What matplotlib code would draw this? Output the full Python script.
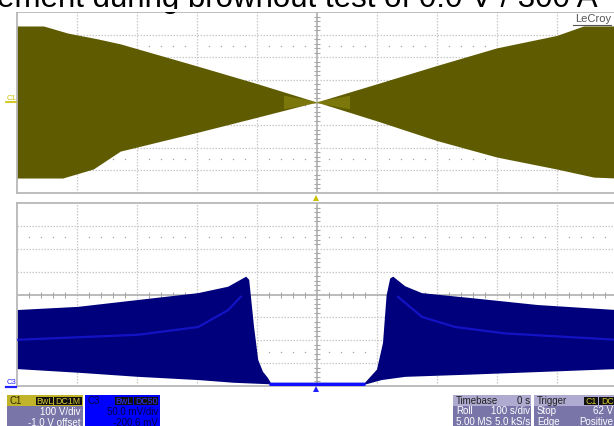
import numpy as np
import matplotlib
matplotlib.use('Agg')
import matplotlib.pyplot as plt
from matplotlib.patches import Rectangle
from matplotlib.lines import Line2D

plt.rcParams['font.family'] = ['Liberation Sans', 'DejaVu Sans']

W, H = 614, 426

# ---------------- data (time in s, C1 in V, C3 in mV on screen) ----------------
c1_upper_t = [-500, -455, -415, -365, -327, -200, -100, 0, 100, 200, 300, 400, 445, 500]
c1_upper_v = [336, 336, 305, 279, 257, 160, 82, 0, 80, 161, 239, 294, 336, 336]
c1_lower_t = [-500, -423, -372, -327, -200, -100, 0, 100, 200, 300, 400, 462, 500]
c1_lower_v = [-336, -336, -296, -217, -135, -68, 0, -83, -170, -243, -296, -332, -336]
c1_glow_t = [-55, 0, 55]
c1_glow_v = [30, 3, 30]

c3_upper_t = [-500, -398, -298, -198, -148, -118, -113, -105, -98, -90, -82, -77,
              80, 100, 110, 116, 122, 127, 147, 175, 258, 368, 500]
c3_upper_v = [-34, -27, -12, 3, 17, 39, 32, -70, -143, -169, -182, -193,
              -193, -164, -106, -2, 35, 39, 18, 3, -8, -23, -34]
c3_lower_t = [-500, -398, -298, -198, -138, -82, -77, 80, 108, 147, 258, 500]
c3_lower_v = [-163, -171, -180, -187, -193, -196, -197, -197, -187, -180, -175, -163]

c3_band_left_t = [-500, -298, -198, -148, -127]
c3_band_left_v = [-99, -88, -71, -34, -5]
c3_band_right_t = [135, 175, 230, 313, 500]
c3_band_right_v = [-5, -49, -71, -85, -99]
c3_base_t = [-80, 80]
c3_base_v = [-195, -195]

title_text = "ement during brownout test of 0.0 V / 300 A"
c1_info = ["100 V/div", "-1.0 V offset"]
c3_info = ["50.0 mV/div", "-200.6 mV"]
tb_info = [("Timebase", "0 s"), ("Roll", "100 s/div"), ("5.00 MS", "5.0 kS/s")]
trig_info = [("Trigger", ""), ("Stop", "62 V"), ("Edge", "Positive")]

OLIVE = '#5f5b00'
NAVY = '#00007c'
YEL = '#c8c000'
BLUE = '#2020ff'

fig = plt.figure(figsize=(W / 100, H / 100), dpi=100)


def fx(x):
    return x / W


def fy(y):
    return 1 - y / H


def scope_axes(top, bottom, ymax):
    ax = fig.add_axes([fx(17), fy(bottom), 600 / W, (bottom - top) / H])
    ax.set_xlim(-500, 500)
    ax.set_ylim(-ymax, ymax)
    ax.set_xticks([])
    ax.set_yticks([])
    for s in ax.spines.values():
        s.set_color('#b8b8b8')
        s.set_linewidth(1.3)
    div = ymax / 4
    for x in range(-400, 500, 100):
        if x != 0:
            ax.axvline(x, color='#c8c8c8', lw=0.9, ls=(0, (1.2, 1.2)), zorder=0)
    for k in (-3, -2, -1, 1, 2, 3):
        ax.axhline(k * div, color='#c8c8c8', lw=0.9, ls=(0, (1.2, 1.2)), zorder=0)
    ax.axvline(0, color='#a8a8a8', lw=1.1, zorder=0.5)
    ax.axhline(0, color='#a8a8a8', lw=1.1, zorder=0.5)
    xs = [x for x in range(-480, 500, 20) if x % 100 != 0]
    ax.plot(xs, [0] * len(xs), ls='none', marker='|', ms=4, mew=0.8,
            color='#a8a8a8', zorder=0.5)
    ys = [k * div / 5 for k in range(-19, 20) if k % 5 != 0]
    ax.plot([0] * len(ys), ys, ls='none', marker='_', ms=4, mew=0.8,
            color='#a8a8a8', zorder=0.5)
    for yy in (-2.5 * div, 2.5 * div):
        ax.plot(xs, [yy] * len(xs), ls='none', marker='s', ms=0.9, mew=0,
                color='#a0a0a0', zorder=0.5)
    return ax


# ---------------- top panel: C1 ----------------
ax1 = scope_axes(12, 193, 400)
ax1.fill(np.concatenate([c1_upper_t, c1_lower_t[::-1]]),
         np.concatenate([c1_upper_v, c1_lower_v[::-1]]),
         color=OLIVE, lw=0, zorder=2)
gv = np.array(c1_glow_v)
ax1.fill(np.concatenate([c1_glow_t, c1_glow_t[::-1]]),
         np.concatenate([gv, -gv[::-1]]),
         color='#aaa31a', alpha=0.4, lw=0, zorder=2.5)
ax1.text(490, 354, "LeCroy", ha='right', va='baseline', fontsize=8, color='#555555', zorder=3)
ax1.plot([427, 490], [344, 344], color='#555555', lw=0.8, zorder=3)

# ---------------- bottom panel: C3 ----------------
ax3 = scope_axes(203, 386, 200)
ax3.fill(np.concatenate([c3_upper_t, c3_lower_t[::-1]]),
         np.concatenate([c3_upper_v, c3_lower_v[::-1]]),
         color=NAVY, lw=0, zorder=2)
ax3.plot(c3_band_left_t, c3_band_left_v, color='#1818d8', lw=1.6, alpha=0.8, zorder=3)
ax3.plot(c3_band_right_t, c3_band_right_v, color='#1818d8', lw=1.6, alpha=0.8, zorder=3)
ax3.plot(c3_base_t, c3_base_v, color='#1010ff', lw=2.5, zorder=3,
         solid_capstyle='butt')

# ---------------- channel markers / trigger arrows ----------------
fig.text(fx(7), fy(100), "C1", fontsize=5.5, color=YEL, ha='left', va='baseline')
fig.add_artist(Line2D([fx(6), fx(16)], [fy(101.5), fy(101.5)], color=YEL, lw=1.2))
fig.text(fx(7), fy(384), "C3", fontsize=5.5, color=BLUE, ha='left', va='baseline')
fig.add_artist(Line2D([fx(6), fx(16)], [fy(386.5), fy(386.5)], color=BLUE, lw=1.6))
fig.add_artist(Line2D([fx(316)], [fy(198)], marker='^', ms=5, color=YEL, mew=0))
fig.add_artist(Line2D([fx(316)], [fy(389)], marker='^', ms=5, color=BLUE, mew=0))

# ---------------- title (cut off at top, partly hidden by the screenshot) ----------------
fig.text(fx(-3), fy(7.5), title_text, fontsize=22.5, color='black', ha='left',
         va='baseline', zorder=1)
fig.add_artist(Rectangle((0, fy(12)), 1, 2.6 / H, transform=fig.transFigure,
                         color='white', lw=0, zorder=1.5))


# ---------------- info boxes ----------------
def rect(x0, y0, x1, y1, color, z=5):
    fig.add_artist(Rectangle((fx(x0), fy(y1)), (x1 - x0) / W, (y1 - y0) / H,
                             transform=fig.transFigure, color=color, lw=0, zorder=z))


def tag(x0, x1, y0, y1, text, fg):
    rect(x0, y0, x1, y1, '#101010', z=6)
    fig.text(fx((x0 + x1) / 2), fy((y0 + y1) / 2 + 0.5), text, fontsize=6.3, color=fg,
             ha='center', va='center', zorder=7)


PURP = '#7a75a8'
LAV = '#aeaad0'
FS = 7

# C1 box
rect(7, 395, 83, 426, PURP)
rect(7, 395, 83, 405.5, '#c2b42a')
fig.text(fx(9), fy(404), "C1", fontsize=FS, color='#2a2a00', ha='left', va='baseline', zorder=7)
tag(36, 53, 396.5, 404.5, "BwL", '#d8c830')
tag(54, 82, 396.5, 404.5, "DC1M", '#d8c830')
fig.text(fx(80), fy(415), c1_info[0], fontsize=FS, color='white', ha='right', va='baseline', zorder=7)
fig.text(fx(80), fy(425.5), c1_info[1], fontsize=FS, color='white', ha='right', va='baseline', zorder=7)

# C3 box
rect(85, 395, 160, 426, '#0000ff')
fig.text(fx(88), fy(404), "C3", fontsize=FS, color='#000040', ha='left', va='baseline', zorder=7)
tag(115, 133, 396.5, 404.5, "BwL", '#3030ff')
tag(134, 158, 396.5, 404.5, "DC50", '#3030ff')
fig.text(fx(158), fy(415), c3_info[0], fontsize=FS, color='#000040', ha='right', va='baseline', zorder=7)
fig.text(fx(158), fy(425.5), c3_info[1], fontsize=FS, color='#000040', ha='right', va='baseline', zorder=7)

# Timebase box
rect(453, 395, 531, 426, PURP)
rect(453, 395, 531, 405.5, LAV)
for i, (l, r) in enumerate(tb_info):
    col = '#202020' if i == 0 else 'white'
    yb = 404 + i * 10.5
    fig.text(fx(456), fy(yb), l, fontsize=FS, color=col, ha='left', va='baseline', zorder=7)
    fig.text(fx(530), fy(yb), r, fontsize=FS, color=col, ha='right', va='baseline', zorder=7)

# Trigger box
rect(534, 395, 620, 426, PURP)
rect(534, 395, 620, 405.5, LAV)
for i, (l, r) in enumerate(trig_info):
    col = '#202020' if i == 0 else 'white'
    yb = 404 + i * 10.5
    fig.text(fx(537), fy(yb), l, fontsize=FS, color=col, ha='left', va='baseline', zorder=7)
    if r:
        fig.text(fx(613), fy(yb), r, fontsize=FS, color=col, ha='right', va='baseline', zorder=7)
tag(584, 598, 396.5, 404.5, "C1", '#d8c830')
tag(599, 616, 396.5, 404.5, "DC", '#d8c830')

fig.savefig('out.png', dpi=100)
